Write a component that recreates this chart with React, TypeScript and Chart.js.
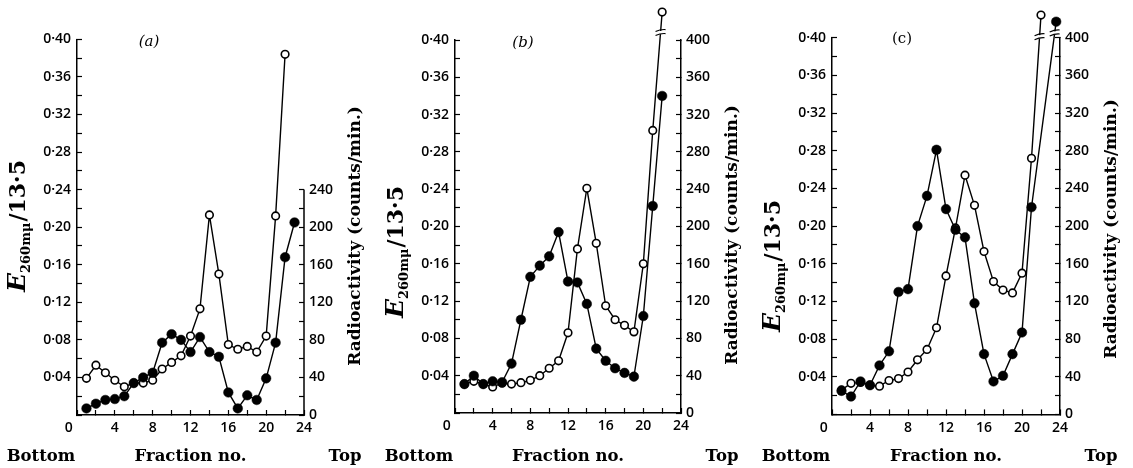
import { useEffect, useRef } from 'react';
import { Chart, registerables } from 'chart.js';

Chart.register(...registerables);

// ---------------- data ----------------
// Panel (a)
const fractionsAOpen = [1, 2, 3, 4, 5, 6, 7, 8, 9, 10, 11, 12, 13, 14, 15, 16, 17, 18, 19, 20, 21, 22];
const e260A = [0.039, 0.053, 0.045, 0.037, 0.030, 0.034, 0.034, 0.037, 0.049, 0.056, 0.063, 0.084, 0.113, 0.213, 0.150, 0.075, 0.070, 0.073, 0.067, 0.084, 0.212, 0.384];
const fractionsAFilled = [1, 2, 3, 4, 5, 6, 7, 8, 9, 10, 11, 12, 13, 14, 15, 16, 17, 18, 19, 20, 21, 22, 23];
const countsA = [7, 12, 16, 17, 20, 34, 40, 45, 77, 86, 80, 67, 83, 67, 62, 24, 7, 21, 16, 39, 77, 168, 205];

// Panel (b)
const fractionsBOpen = [1, 2, 3, 4, 5, 6, 7, 8, 9, 10, 11, 12, 13, 14, 15, 16, 17, 18, 19, 20, 21, 22];
const e260B = [0.031, 0.034, 0.031, 0.028, 0.032, 0.031, 0.0325, 0.035, 0.040, 0.048, 0.056, 0.086, 0.176, 0.241, 0.182, 0.115, 0.100, 0.094, 0.087, 0.160, 0.303, 0.430];
const fractionsBFilled = [1, 2, 3, 4, 5, 6, 7, 8, 9, 10, 11, 12, 13, 14, 15, 16, 17, 18, 19, 20, 21, 22];
const countsB = [31, 40, 31, 34, 33, 53, 100, 146, 158, 168, 194, 141, 140, 117, 69, 56, 48, 43, 39, 104, 222, 340];

// Panel (c)
const fractionsCOpen = [1, 2, 3, 4, 5, 6, 7, 8, 9, 10, 11, 12, 13, 14, 15, 16, 17, 18, 19, 20, 21, 22];
const e260C = [0.026, 0.033, 0.034, 0.031, 0.030, 0.036, 0.038, 0.045, 0.058, 0.069, 0.092, 0.147, 0.198, 0.254, 0.222, 0.173, 0.141, 0.132, 0.129, 0.150, 0.272, 0.424];
const fractionsCFilled = [1, 2, 3, 4, 5, 6, 7, 8, 9, 10, 11, 12, 13, 14, 15, 16, 17, 18, 19, 20, 21, 23.6];
const countsC = [25, 19, 35, 31, 52, 67, 130, 133, 200, 232, 281, 218, 196, 188, 118, 64, 35, 41, 64, 87, 220, 417];

// tick labels
const xTickLabels = ['0', '4', '8', '12', '16', '20', '24'];
const leftTickLabels = ['0·04', '0·08', '0·12', '0·16', '0·20', '0·24', '0·28', '0·32', '0·36', '0·40'];
const rightTickLabelsA = ['0', '40', '80', '120', '160', '200', '240'];
const rightTickLabelsBC = ['0', '40', '80', '120', '160', '200', '240', '280', '320', '360', '400'];

type BreakDef = { series: 'open' | 'filled'; segment: number; level: number };

// axis break levels (value at which the "≈" sign sits)
const breaksA: BreakDef[] = [];
const breaksB: BreakDef[] = [{ series: 'open', segment: 20, level: 0.408 }];
const breaksC: BreakDef[] = [
  { series: 'open', segment: 20, level: 0.401 },
  { series: 'filled', segment: 20, level: 405 },
];

type PanelDef = {
  tag: string;
  italicTag: boolean;
  openX: number[];
  open: number[];
  filledX: number[];
  filled: number[];
  rightLabels: string[];
  breaks: BreakDef[];
  canvasLeft: number;
  width: number;
  left: number;
  right: number;
  top: number;
  bottom: number;
  leftTitleY: number;
  rightTitleY: number;
  tagX: number;
  tagY: number;
};

const H = 468;

const panels: PanelDef[] = [
  {
    tag: '(a)', italicTag: true,
    openX: fractionsAOpen, open: e260A, filledX: fractionsAFilled, filled: countsA,
    rightLabels: rightTickLabelsA, breaks: breaksA,
    canvasLeft: 0, width: 378, left: 77, right: 304, top: 39.3, bottom: 415,
    leftTitleY: 226, rightTitleY: 236, tagX: 149, tagY: 42,
  },
  {
    tag: '(b)', italicTag: true,
    openX: fractionsBOpen, open: e260B, filledX: fractionsBFilled, filled: countsB,
    rightLabels: rightTickLabelsBC, breaks: breaksB,
    canvasLeft: 378, width: 377, left: 77, right: 303, top: 40, bottom: 413,
    leftTitleY: 252, rightTitleY: 235, tagX: 145, tagY: 43,
  },
  {
    tag: '(c)', italicTag: false,
    openX: fractionsCOpen, open: e260C, filledX: fractionsCFilled, filled: countsC,
    rightLabels: rightTickLabelsBC, breaks: breaksC,
    canvasLeft: 755, width: 378, left: 77, right: 305, top: 37.7, bottom: 414.4,
    leftTitleY: 266, rightTitleY: 229, tagX: 147, tagY: 39,
  },
];

const SERIF = '"DejaVu Serif", serif';
const SANS = '"Open Sans", Lato, sans-serif';

function makeChart(canvas: HTMLCanvasElement, p: PanelDef) {
  const rightMax = (p.rightLabels.length - 1) * 40;

  const overflowPoints = {
    id: 'overflowPoints',
    afterDatasetsDraw(chart: any) {
      const area = chart.chartArea;
      const big = { left: -1e4, top: -1e4, right: 1e4, bottom: 1e4 };
      for (let i = chart.data.datasets.length - 1; i >= 0; i--) {
        const meta = chart.getDatasetMeta(i);
        for (const el of meta.data) {
          if (el.y < area.top - 2) el.draw(chart.ctx, big);
        }
      }
    },
  };

  const textPlugin = {
    id: 'paperTexts',
    afterDraw(chart: any) {
      const ctx: CanvasRenderingContext2D = chart.ctx;
      const area = chart.chartArea;
      const y2 = chart.scales.y2;
      const yL = chart.scales.y;
      ctx.save();
      ctx.fillStyle = '#000';
      ctx.strokeStyle = '#000';

      // partial right axis line (only as far as the labelled range)
      if (rightMax < 400) {
        ctx.lineWidth = 1.5;
        ctx.beginPath();
        ctx.moveTo(area.right, y2.getPixelForValue(0) + 0.75);
        ctx.lineTo(area.right, y2.getPixelForValue(rightMax));
        ctx.stroke();
      }

      // axis breaks
      for (const b of p.breaks) {
        const dsIndex = b.series === 'filled' ? 0 : 1;
        const scale = b.series === 'filled' ? y2 : yL;
        const meta = chart.getDatasetMeta(dsIndex);
        const p1 = meta.data[b.segment];
        const p2 = meta.data[b.segment + 1];
        const yb = scale.getPixelForValue(b.level);
        const t = (yb - p1.y) / (p2.y - p1.y);
        const xb = p1.x + t * (p2.x - p1.x);
        ctx.fillStyle = '#fff';
        ctx.fillRect(xb - 3, yb - 1.6, 6, 3.2);
        ctx.strokeStyle = '#000';
        ctx.lineWidth = 1.2;
        for (const off of [-2, 2]) {
          ctx.beginPath();
          ctx.moveTo(xb - 5, yb + off + 1);
          ctx.quadraticCurveTo(xb, yb + off - 1.4, xb + 5, yb + off - 1);
          ctx.stroke();
        }
        ctx.fillStyle = '#000';
      }

      // panel tag
      ctx.font = (p.italicTag ? 'italic ' : '') + '15px ' + SERIF;
      ctx.textAlign = 'center';
      ctx.textBaseline = 'middle';
      ctx.fillText(p.tag, p.tagX, p.tagY);

      // bottom labels
      ctx.font = 'bold 16.5px ' + SERIF;
      ctx.textBaseline = 'middle';
      ctx.textAlign = 'center';
      ctx.fillText('Bottom', area.left - 36, 457);
      ctx.fillText('Fraction no.', (area.left + area.right) / 2, 457);
      ctx.fillText('Top', area.right + 41, 457);

      // left title  E260mμ/13·5 (rotated)
      ctx.save();
      ctx.translate(area.left - 60, p.leftTitleY);
      ctx.rotate(-Math.PI / 2);
      const fE = 'italic bold 25px ' + SERIF;
      const fSub = 'bold 13px ' + SERIF;
      const fRest = 'bold 22px ' + SERIF;
      ctx.font = fE; const wE = ctx.measureText('E').width;
      ctx.font = fSub; const wS = ctx.measureText('260mμ').width;
      ctx.font = fRest; const wR = ctx.measureText('/13·5').width;
      const total = wE + wS + wR + 1;
      let x = -total / 2;
      const base = 8;
      ctx.textAlign = 'left';
      ctx.textBaseline = 'alphabetic';
      ctx.font = fE; ctx.fillText('E', x, base); x += wE;
      ctx.font = fSub; ctx.fillText('260mμ', x, base + 5); x += wS + 1;
      ctx.font = fRest; ctx.fillText('/13·5', x, base);
      ctx.restore();

      // right title
      ctx.save();
      ctx.translate(area.right + 52, p.rightTitleY);
      ctx.rotate(-Math.PI / 2);
      ctx.font = 'bold 17px ' + SERIF;
      ctx.textAlign = 'center';
      ctx.textBaseline = 'middle';
      ctx.fillText('Radioactivity (counts/min.)', 0, 0);
      ctx.restore();

      ctx.restore();
    },
  };

  const gridOpts = {
    drawOnChartArea: false,
    drawTicks: true,
    tickLength: -5,
    tickColor: '#000',
    tickWidth: 1.2,
  };
  const borderOpts = { display: true, color: '#000', width: 1.5 };
  const tickFont = { family: SANS, size: 14, weight: '600' };

  return new Chart(canvas, {
    type: 'line',
    data: {
      datasets: [
        {
          label: 'Radioactivity',
          data: p.filledX.map((x, i) => ({ x, y: p.filled[i] })),
          yAxisID: 'y2',
          borderColor: '#000',
          borderWidth: 1.4,
          pointRadius: 4.8,
          pointBackgroundColor: '#000',
          pointBorderColor: '#000',
          pointBorderWidth: 0.5,
          tension: 0,
          clip: false,
        } as any,
        {
          label: 'E260',
          data: p.openX.map((x, i) => ({ x, y: p.open[i] })),
          yAxisID: 'y',
          borderColor: '#000',
          borderWidth: 1.4,
          pointRadius: 3.8,
          pointBackgroundColor: '#fff',
          pointBorderColor: '#000',
          pointBorderWidth: 1.6,
          tension: 0,
          clip: false,
        } as any,
      ],
    },
    options: {
      responsive: false,
      animation: false,
      devicePixelRatio: 1,
      events: [],
      layout: { padding: { top: p.top, left: 0, right: 0, bottom: 0 } },
      plugins: {
        legend: { display: false },
        tooltip: { enabled: false },
        title: { display: false },
      },
      scales: {
        x: {
          type: 'linear',
          position: 'bottom',
          min: 0,
          max: 24,
          afterFit: (s: any) => { s.height = H - p.bottom; },
          ticks: {
            stepSize: 2,
            autoSkip: false,
            maxRotation: 0,
            padding: 10,
            color: '#000',
            font: tickFont,
            callback: (v: any) => {
              const n = Math.round(Number(v));
              if (n % 4 !== 0) return '';
              const lab = xTickLabels[n / 4];
              return n === 0 ? lab + '\u2002\u2002\u2009' : lab;
            },
          },
          grid: gridOpts,
          border: borderOpts,
        },
        y: {
          type: 'linear',
          position: 'left',
          min: 0,
          max: 0.4,
          afterFit: (s: any) => { s.width = p.left; },
          ticks: {
            stepSize: 0.02,
            autoSkip: false,
            padding: 11,
            color: '#000',
            font: tickFont,
            callback: (v: any) => {
              const k = Math.round(Number(v) * 100);
              return k > 0 && k % 4 === 0 ? leftTickLabels[k / 4 - 1] : '';
            },
          },
          grid: gridOpts,
          border: borderOpts,
        },
        y2: {
          type: 'linear',
          position: 'right',
          min: 0,
          max: 400,
          afterFit: (s: any) => { s.width = p.width - p.right; },
          ticks: {
            stepSize: 20,
            autoSkip: false,
            padding: 10,
            color: '#000',
            font: tickFont,
            callback: (v: any) => {
              const n = Math.round(Number(v));
              return n % 40 === 0 && n <= rightMax ? p.rightLabels[n / 40] : '';
            },
          },
          grid: {
            ...gridOpts,
            tickColor: (c: any) => (c.tick && c.tick.value > rightMax ? 'rgba(0,0,0,0)' : '#000'),
          },
          border: { ...borderOpts, display: rightMax >= 400 },
        },
      },
    } as any,
    plugins: [overflowPoints, textPlugin],
  });
}

function Panel({ p }: { p: PanelDef }) {
  const ref = useRef<HTMLCanvasElement>(null);
  useEffect(() => {
    const chart = makeChart(ref.current as HTMLCanvasElement, p);
    return () => chart.destroy();
  }, [p]);
  return (
    <canvas
      ref={ref}
      width={p.width}
      height={H}
      style={{ position: 'absolute', left: p.canvasLeft, top: 0, width: p.width, height: H }}
    />
  );
}

export default function App() {
  return (
    <div style={{ position: 'fixed', left: 0, top: 0, width: 1133, height: H, background: '#fff' }}>
      {panels.map((p) => (
        <Panel key={p.tag} p={p} />
      ))}
    </div>
  );
}
